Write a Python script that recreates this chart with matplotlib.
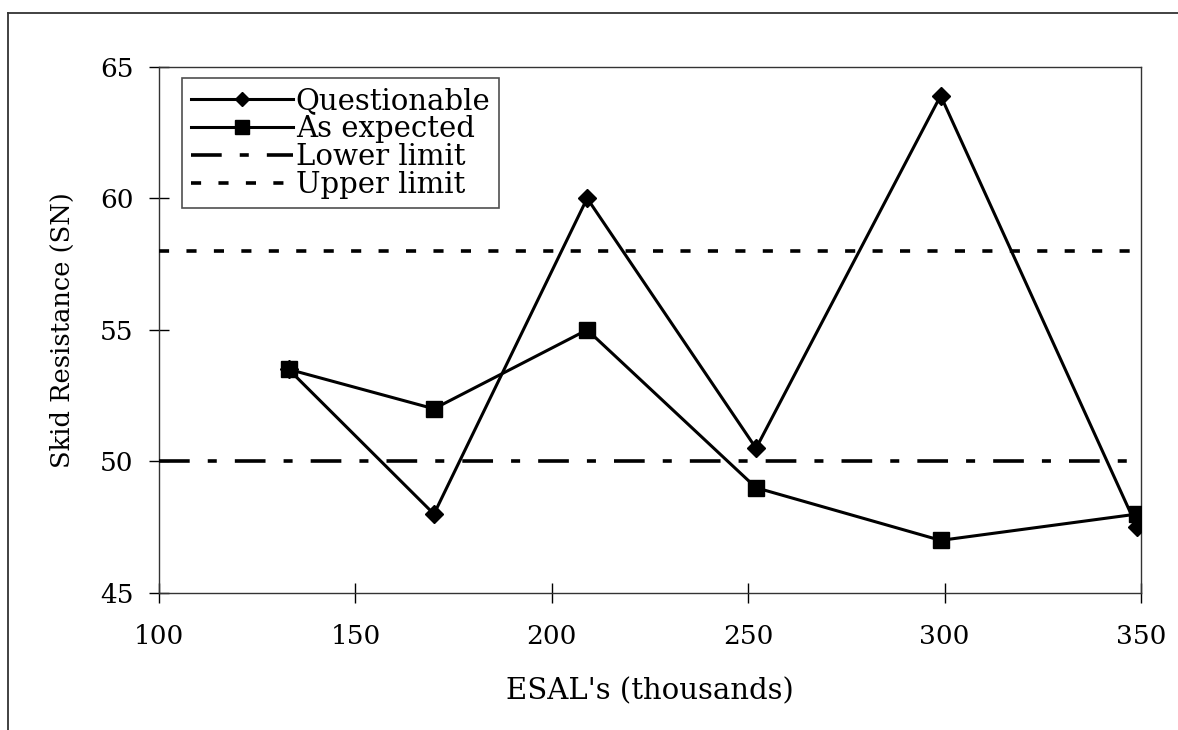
import matplotlib
matplotlib.use("Agg")
import matplotlib.pyplot as plt
from matplotlib.lines import Line2D

# Data
esal = [133, 170, 209, 252, 299, 349]
questionable = [53.5, 48.0, 60.0, 50.5, 63.9, 47.5]
as_expected = [53.5, 52.0, 55.0, 49.0, 47.0, 48.0]
lower_limit = 50
upper_limit = 58
x_ticks = [100, 150, 200, 250, 300, 350]
y_ticks = [45, 50, 55, 60, 65]

plt.rcParams['font.family'] = ['DejaVu Serif']

fig = plt.figure(figsize=(11.78, 7.30), dpi=100)
ax = fig.add_axes([159/1178, 1-593/730, (1141-159)/1178, (593-66.7)/730])

ax.plot(esal, questionable, color='black', lw=2.2, marker='D', markersize=9.5,
        label='Questionable', zorder=4)
ax.plot(esal, as_expected, color='black', lw=2.2, marker='s', markersize=12,
        label='As expected', zorder=4)
ax.axhline(lower_limit, color='black', lw=2.6, dashes=(8.5, 5.0, 2.5, 5.0),
           label='Lower limit', zorder=3)
ax.axhline(upper_limit, color='black', lw=2.6, dashes=(2.8, 4.8),
           label='Upper limit', zorder=3)

ax.set_xlim(100, 350)
ax.set_ylim(45, 65)
ax.set_xticks(x_ticks)
ax.set_yticks(y_ticks)
ax.tick_params(axis='both', direction='inout', length=15, width=1.0,
               labelsize=19, colors='black')
ax.tick_params(axis='x', pad=15)
ax.tick_params(axis='y', pad=11)
for s in ax.spines.values():
    s.set_linewidth(1.0)
    s.set_color('#333333')

ax.set_xlabel("ESAL's (thousands)", fontsize=21, labelpad=20)
ax.set_ylabel("Skid Resistance (SN)", fontsize=18.5, labelpad=18)

leg = ax.legend(loc='upper left', bbox_to_anchor=((182-159)/982, 1-(78-66.7)/526.3),
                fontsize=21, frameon=True, fancybox=False, edgecolor='#222222',
                handlelength=3.5, handletextpad=0.1, labelspacing=0.0,
                borderpad=0.3, borderaxespad=0.0, markerscale=0.8)
leg.get_frame().set_linewidth(1.2)

# outer frame lines
fig.add_artist(Line2D([8/1178, 8/1178], [0, 1-13/730], color='#333333', lw=1.3,
                      transform=fig.transFigure))
fig.add_artist(Line2D([8/1178, 1], [1-13/730, 1-13/730], color='#333333', lw=1.3,
                      transform=fig.transFigure))

fig.savefig('out.png', dpi=100)
